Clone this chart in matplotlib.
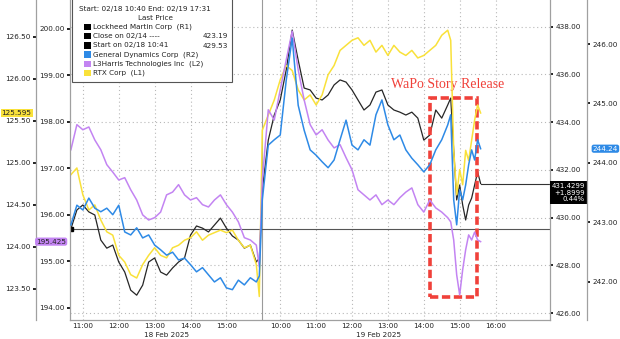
import numpy as np
import matplotlib
matplotlib.use("Agg")
import matplotlib.pyplot as plt
from matplotlib.patches import Rectangle
from matplotlib.transforms import blended_transform_factory

# ---- data (intraday, 18 Feb and 19 Feb 2025) ----
day1_times = ["10:40", "10:50", "11:00", "11:10", "11:20", "11:30", "11:40", "11:50",
              "12:00", "12:10", "12:20", "12:30", "12:40", "12:50", "13:00", "13:10",
              "13:20", "13:30", "13:40", "13:50", "14:00", "14:10", "14:20", "14:30",
              "14:40", "14:50", "15:00", "15:10", "15:20", "15:30", "15:40", "15:50", "15:55"]
day2_times = ["09:30", "09:40", "09:50", "10:00", "10:10", "10:20", "10:30", "10:40",
              "10:50", "11:00", "11:10", "11:20", "11:30", "11:40", "11:50", "12:00",
              "12:10", "12:20", "12:30", "12:40", "12:50", "13:00", "13:10", "13:20",
              "13:30", "13:40", "13:50", "14:00", "14:10", "14:20", "14:30", "14:40",
              "14:45", "14:50", "14:55", "15:00", "15:05", "15:10", "15:15", "15:20",
              "15:25", "15:30", "15:35"]

# Lockheed Martin (R1)
lmt_d1 = [429.53, 430.32, 430.53, 430.24, 430.11, 429.06, 428.72, 428.85, 428.14, 427.72,
          426.96, 426.75, 427.17, 428.14, 428.31, 427.72, 427.59, 427.89, 428.14, 428.31,
          429.27, 429.65, 429.56, 429.40, 429.69, 429.98, 429.56, 429.23, 429.06, 428.72,
          428.85, 428.14, 428.30]
lmt_d2 = [431.16, 433.25, 434.30, 434.93, 436.19, 437.86, 436.60, 435.43, 435.35, 435.01,
          434.93, 435.14, 435.56, 435.77, 435.68, 435.35, 434.93, 434.51, 434.72, 435.26,
          435.35, 434.72, 434.51, 434.42, 434.30, 434.42, 434.17, 433.25, 433.46, 434.51,
          434.17, 434.72, 435.01, 432.83, 430.74, 431.37, 430.53, 429.90, 430.53, 430.82,
          431.37, 431.91, 431.4299]
# General Dynamics (R2)
gd_d1 = [242.96, 243.29, 243.21, 243.41, 243.24, 243.18, 243.24, 243.13, 243.29, 242.84,
         242.79, 242.91, 242.74, 242.79, 242.62, 242.54, 242.45, 242.50, 242.37, 242.40,
         242.29, 242.17, 242.24, 242.12, 242.00, 242.07, 241.90, 241.87, 242.03, 241.95,
         242.07, 242.00, 242.10]
gd_d2 = [243.38, 244.30, 244.39, 244.47, 245.39, 246.10, 244.97, 244.55, 244.22, 244.13,
         244.02, 243.92, 244.05, 244.39, 244.72, 244.30, 244.22, 244.39, 244.30, 244.81,
         245.06, 244.64, 244.39, 244.47, 244.22, 244.08, 243.97, 243.85, 243.97, 244.22,
         244.39, 244.64, 244.81, 243.38, 242.96, 243.55, 243.38, 243.63, 243.97, 244.22,
         244.05, 244.39, 244.24]
# L3Harris (L2)
lhx_d1 = [197.40, 197.94, 197.83, 197.89, 197.61, 197.40, 197.08, 196.92, 196.75, 196.80,
          196.54, 196.32, 196.00, 195.89, 195.94, 196.06, 196.43, 196.49, 196.65, 196.43,
          196.32, 196.37, 196.22, 196.17, 196.32, 196.43, 196.22, 196.06, 195.85, 195.51,
          195.46, 195.35, 194.88]
lhx_d2 = [196.75, 198.26, 198.04, 198.69, 199.33, 199.95, 199.12, 198.47, 197.94, 197.72,
          197.83, 197.61, 197.44, 197.51, 197.23, 196.97, 196.54, 196.43, 196.32, 196.43,
          196.22, 196.32, 196.22, 196.37, 196.49, 196.58, 196.22, 196.06, 196.32, 196.15,
          196.06, 195.94, 195.85, 195.46, 194.71, 194.28, 194.82, 195.25, 195.57, 195.46,
          195.63, 195.46, 195.425]
# RTX (L1)
rtx_d1 = [124.86, 124.94, 124.62, 124.44, 124.50, 124.32, 124.18, 124.14, 123.90, 123.82,
          123.67, 123.63, 123.79, 123.90, 123.99, 123.90, 123.87, 123.99, 124.02, 124.08,
          124.11, 124.18, 124.08, 124.14, 124.17, 124.20, 124.17, 124.20, 124.08, 123.99,
          124.02, 123.79, 123.41]
rtx_d2 = [125.39, 125.57, 125.75, 125.99, 126.16, 126.10, 125.87, 125.75, 125.81, 125.69,
          125.81, 126.05, 126.16, 126.34, 126.40, 126.46, 126.49, 126.40, 126.46, 126.32,
          126.40, 126.28, 126.40, 126.32, 126.28, 126.34, 126.25, 126.28, 126.34, 126.40,
          126.52, 126.58, 126.46, 125.15, 124.62, 124.92, 124.74, 125.15, 125.03, 125.27,
          125.51, 125.69, 125.595]

lmt_start = 429.53
lmt_close_0214 = 423.19
lmt_change = "+1.8999"
lmt_change_pct = "0.44%"

day1_hours = ["11:00", "12:00", "13:00", "14:00", "15:00"]
day2_hours = ["10:00", "11:00", "12:00", "13:00", "14:00", "15:00", "16:00"]
wapo_window = ("14:10", "15:29")

C_LMT, C_GD, C_LHX, C_RTX = "#262626", "#2e8ae6", "#c384f2", "#f9e13a"
RED = "#f0413a"


def to_pos(day, hhmm):
    # trading-minute axis: day 1 from 10:40 to 16:00, day 2 from 09:30
    h, m = map(int, hhmm.split(":"))
    mins = h * 60 + m
    if day == 1:
        return mins - (10 * 60 + 40)
    return 320 + mins - (9 * 60 + 30)


x = np.array([to_pos(1, t) for t in day1_times] + [to_pos(2, t) for t in day2_times])
lmt = np.array(lmt_d1 + lmt_d2)
gd = np.array(gd_d1 + gd_d2)
lhx = np.array(lhx_d1 + lhx_d2)
rtx = np.array(rtx_d1 + rtx_d2)

W, H = 620, 339
fig = plt.figure(figsize=(W / 100, H / 100), dpi=100)
fig.patch.set_facecolor("white")
ax = fig.add_axes([70 / W, 19 / H, 480 / W, 320 / H])      # LMT, right axis R1
ax_l1 = ax.twinx()                                        # RTX, outer left
ax_l2 = ax.twinx()                                        # LHX, inner left
ax_r2 = ax.twinx()                                        # GD, outer right

xmin, xmax = -1.5, to_pos(2, "17:31")
ax.set_xlim(xmin, xmax)

spine_c = "#a0a0a0"
for a in (ax, ax_l1, ax_l2, ax_r2):
    for s in a.spines.values():
        s.set_visible(False)
        s.set_color(spine_c)
        s.set_linewidth(0.9)
    a.tick_params(axis="y", direction="out", length=2.5, width=1.3, color="#111111",
                  labelsize=5.2, labelcolor="#222222", pad=1.5)

ax.spines["bottom"].set_visible(True)
ax.spines["right"].set_visible(True)
ax.yaxis.tick_right()
ax_l1.yaxis.tick_left()
ax_l1.spines["left"].set_visible(True)
ax_l1.spines["left"].set_position(("axes", -34 / 480))
ax_l2.yaxis.tick_left()
ax_l2.spines["left"].set_visible(True)
ax_r2.spines["right"].set_visible(True)
ax_r2.spines["right"].set_position(("axes", 1 + 37 / 480))

ax.set_ylim(425.71, 439.12)
ax.set_yticks(np.arange(426, 439, 2))
ax.set_yticklabels([f"{v:.2f}" for v in np.arange(426, 439, 2)])
ax_l1.set_ylim(123.13, 126.94)
ax_l1.set_yticks(np.arange(123.5, 126.6, 0.5))
ax_l1.set_yticklabels([f"{v:.2f}" for v in np.arange(123.5, 126.6, 0.5)])
ax_l2.set_ylim(193.74, 200.62)
ax_l2.set_yticks(np.arange(194, 201, 1))
ax_l2.set_yticklabels([f"{v:.2f}" for v in np.arange(194, 201, 1)])
ax_r2.set_ylim(241.36, 246.74)
ax_r2.set_yticks(np.arange(242, 247, 1))
ax_r2.set_yticklabels([f"{v:.2f}" for v in np.arange(242, 247, 1)])

# x axis
ticks = [to_pos(1, t) for t in day1_hours] + [to_pos(2, t) for t in day2_hours]
ax.set_xticks(ticks)
ax.set_xticklabels(day1_hours + day2_hours)
ax.tick_params(axis="x", length=0, labelsize=5.2, labelcolor="#222222", pad=2)
ax.grid(True, linestyle=(0, (1, 2.5)), color="#b8b8b8", linewidth=0.8)
ax.axvline(320, color="#9a9a9a", lw=0.8)
tb = blended_transform_factory(ax.transData, ax.transAxes)
ax.text(160, -0.048, "18 Feb 2025", transform=tb, ha="center", va="center",
        fontsize=5.2, color="#222222")
ax.text(to_pos(2, "12:45"), -0.048, "19 Feb 2025", transform=tb, ha="center",
        va="center", fontsize=5.2, color="#222222")

# series
ax.axhline(lmt_start, color="#555555", lw=0.8)
ax.plot(x, lmt, color=C_LMT, lw=0.9)
ax.plot(x[0], lmt[0], "s", ms=2.5, color="black")
ax.plot([x[-1], xmax], [lmt[-1], lmt[-1]], color="#333333", lw=0.8)
ax_l1.plot(x, rtx, color=C_RTX, lw=1.1)
ax_l2.plot(x, lhx, color=C_LHX, lw=1.1)
ax_r2.plot(x, gd, color=C_GD, lw=1.1)

# last-value tags
ax_l1.text(-0.080, rtx[-1], f"{rtx[-1]:.3f}",
           transform=blended_transform_factory(ax.transAxes, ax_l1.transData),
           ha="right", va="center", fontsize=5.2, color="#222222",
           bbox=dict(boxstyle="square,pad=0.15", fc=C_RTX, ec="none"))
ax_l2.text(-0.008, lhx[-1], f"{lhx[-1]:.3f}",
           transform=blended_transform_factory(ax.transAxes, ax_l2.transData),
           ha="right", va="center", fontsize=5.2, color="#222222",
           bbox=dict(boxstyle="round,pad=0.15,rounding_size=0.3", fc=C_LHX, ec="none"))
ax_r2.text(1.089, gd[-1], f"{gd[-1]:.2f}",
           transform=blended_transform_factory(ax.transAxes, ax_r2.transData),
           ha="left", va="center", fontsize=5.2, color="white",
           bbox=dict(boxstyle="round,pad=0.15,rounding_size=0.3", fc=C_GD, ec="none"))
ax.annotate(f"{lmt[-1]:.4f}\n{lmt_change}\n{lmt_change_pct}",
            xy=(1.073, lmt[-1]), xycoords=blended_transform_factory(ax.transAxes, ax.transData),
            xytext=(0, -6.5), textcoords="offset points", ha="right", va="center",
            fontsize=5.0, color="white", linespacing=1.15, annotation_clip=False,
            bbox=dict(boxstyle="square,pad=0.25", fc="black", ec="none"))

# WaPo annotation
x0, x1 = to_pos(2, wapo_window[0]), to_pos(2, wapo_window[1])
ax.add_patch(Rectangle((x0, 0.072), x1 - x0, 0.622, transform=tb, fill=False,
                       ec=RED, lw=2.6, linestyle=(0, (2.3, 1.0)), zorder=5))
ax.text((x0 + x1) / 2 - 10, 0.735, "WaPo Story Release", transform=tb, ha="center",
        va="center", fontsize=10, color=RED, family="Liberation Serif", zorder=6)

# legend panel (Bloomberg style)
def fx(px):
    return px / W


def fy(py):
    return 1 - py / H


fig.add_artist(Rectangle((fx(72), fy(82)), fx(232) - fx(72), fy(-2) - fy(82),
                         transform=fig.transFigure, fc="white", ec="#555555", lw=0.8))
fs = 5.2
fig.text(fx(145), fy(9), "Start: 02/18 10:40 End: 02/19 17:31", ha="center", va="center",
         fontsize=fs, color="#222222")
fig.text(fx(155), fy(18), "Last Price", ha="center", va="center", fontsize=fs,
         color="#222222")
rows = [("Lockheed Martin Corp  (R1)", "black", ""),
        ("Close on 02/14 ----", "black", f"{lmt_close_0214:.2f}"),
        (f"Start on 02/18 10:41", "black", f"{lmt_start:.2f}"),
        ("General Dynamics Corp  (R2)", C_GD, ""),
        ("L3Harris Technologies Inc  (L2)", C_LHX, ""),
        ("RTX Corp  (L1)", C_RTX, "")]
for i, (label, col, val) in enumerate(rows):
    ry = 27 + i * 9.25
    fig.add_artist(Rectangle((fx(84), fy(ry + 3.2)), fx(6.5), fy(0) - fy(6.5),
                             transform=fig.transFigure, fc=col, ec="none"))
    fig.text(fx(93), fy(ry), label, ha="left", va="center", fontsize=fs, color="#222222")
    if val:
        fig.text(fx(228), fy(ry), val, ha="right", va="center", fontsize=fs,
                 color="#222222")

fig.savefig("out.png", dpi=100)
